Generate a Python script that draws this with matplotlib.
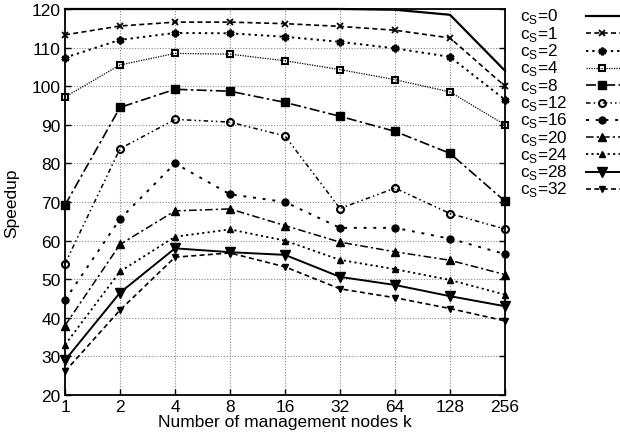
import matplotlib
matplotlib.use("Agg")
import matplotlib.pyplot as plt
from matplotlib.lines import Line2D
from matplotlib.ticker import FixedLocator, FixedFormatter, NullLocator

plt.rcParams['font.family'] = ['Liberation Sans', 'DejaVu Sans']

k_values = [1, 2, 4, 8, 16, 32, 64, 128, 256]
k_labels = ['1', '2', '4', '8', '16', '32', '64', '128', '256']
y_ticks = [20, 30, 40, 50, 60, 70, 80, 90, 100, 110, 120]

cs_labels = ['0', '1', '2', '4', '8', '12', '16', '20', '24', '28', '32']
s_cs0 = [120, 120, 120, 120, 120, 120, 119.8, 118.5, 104]
s_cs1 = [113.3, 115.6, 116.6, 116.6, 116.2, 115.5, 114.5, 112.5, 100]
s_cs2 = [107.4, 112, 113.8, 113.7, 112.8, 111.5, 109.8, 107.6, 96.5]
s_cs4 = [97.2, 105.5, 108.5, 108.3, 106.6, 104.3, 101.7, 98.5, 90]
s_cs8 = [69.2, 94.5, 99.2, 98.7, 95.8, 92.2, 88.3, 82.6, 70.2]
s_cs12 = [54, 83.8, 91.4, 90.7, 87.1, 68.3, 73.6, 67, 63]
s_cs16 = [44.6, 65.6, 80, 72, 70, 63.3, 63.3, 60.5, 56.5]
s_cs20 = [38, 59, 67.7, 68.2, 63.9, 59.6, 57.1, 54.9, 51.2]
s_cs24 = [33, 52, 61, 62.9, 60, 55, 52.6, 49.8, 46]
s_cs28 = [29, 46.5, 58, 57, 56.3, 50.6, 48.5, 45.6, 43]
s_cs32 = [26.1, 42, 55.7, 56.8, 53.2, 47.5, 45.2, 42.4, 39.2]
series = [s_cs0, s_cs1, s_cs2, s_cs4, s_cs8, s_cs12, s_cs16, s_cs20, s_cs24, s_cs28, s_cs32]

styles = [
    dict(ls='-', lw=1.6, marker=None),
    dict(ls=(0, (3, 2)), lw=1.2, marker='x', ms=4.5, mew=1.3),
    dict(ls=(0, (1.2, 2)), lw=1.4, marker=(6, 2, 0), ms=5.5, mew=2.0),
    dict(ls=(0, (1, 1)), lw=0.9, marker='s', ms=5, mfc='none', mew=1.5),
    dict(ls=(0, (6, 2, 1.5, 2)), lw=1.2, marker='s', ms=5.5, mfc='black'),
    dict(ls=(0, (3, 2, 1, 2, 1, 2)), lw=1.1, marker='o', ms=5, mfc='none', mew=1.5),
    dict(ls=(0, (1.5, 3.5)), lw=1.4, marker='o', ms=5, mfc='black'),
    dict(ls=(0, (5, 2, 1.5, 2)), lw=1.1, marker='^', ms=6, mfc='black'),
    dict(ls=(0, (1.2, 1.8)), lw=1.3, marker='^', ms=4, mfc='black'),
    dict(ls='-', lw=1.4, marker='v', ms=6.5, mfc='black'),
    dict(ls=(0, (3, 2)), lw=1.2, marker='v', ms=4, mfc='black'),
]

fig = plt.figure(figsize=(6.2, 4.39), dpi=100)
ax = fig.add_axes([65/620, 43/439, 440/620, 386/439])

for vals, st in zip(series, styles):
    ax.plot(k_values, vals, color='black', linestyle=st['ls'], linewidth=st['lw'],
            marker=st['marker'], markersize=st.get('ms', 0),
            markerfacecolor=st.get('mfc', 'black'), markeredgecolor='black',
            markeredgewidth=st.get('mew', 1.0), clip_on=False, zorder=3)

ax.set_xscale('log', base=2)
ax.set_xlim(1, 256)
ax.set_ylim(20, 120)
ax.xaxis.set_major_locator(FixedLocator(k_values))
ax.xaxis.set_major_formatter(FixedFormatter(k_labels))
ax.xaxis.set_minor_locator(NullLocator())
ax.set_yticks(y_ticks)
ax.grid(True, color='#888888', linestyle=(0, (1, 1.5)), linewidth=0.8)
ax.tick_params(direction='in', length=4, width=1, labelsize=12.5, top=False, right=True, pad=3)
for sp in ax.spines.values():
    sp.set_linewidth(1.3)
ax.set_xlabel('Number of management nodes k', fontsize=12.5, labelpad=0)
ax.set_ylabel('Speedup', fontsize=12.5)
ax.yaxis.set_label_coords(-46/440, 0.5)

# legend drawn manually
y0 = 17
dy = 17.3
for i, (lab, st) in enumerate(zip(cs_labels, styles)):
    yp = 439 - (y0 + i * dy)
    fig.text(520/620, yp/439, r'c$_\mathregular{S}$=' + lab, fontsize=12.3,
             ha='left', va='center')
    ln = Line2D([586/620, 622/620], [yp/439, yp/439], transform=fig.transFigure,
                color='black', linestyle=st['ls'], linewidth=st['lw'])
    fig.add_artist(ln)
    if st['marker'] is not None:
        mk = Line2D([602/620], [yp/439], transform=fig.transFigure, color='black',
                    linestyle='none', marker=st['marker'], markersize=st.get('ms', 0),
                    markerfacecolor=st.get('mfc', 'black'), markeredgecolor='black',
                    markeredgewidth=st.get('mew', 1.0))
        fig.add_artist(mk)

fig.savefig('out.png', dpi=100)
